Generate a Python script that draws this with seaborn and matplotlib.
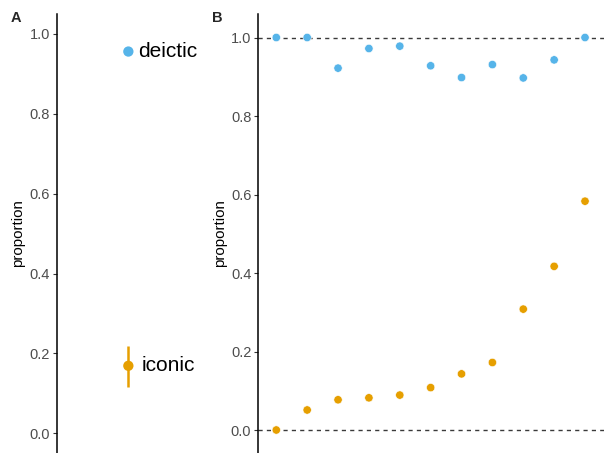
import seaborn as sns
import matplotlib.pyplot as plt
import pandas as pd
import numpy as np

# data
conditions = ["deictic", "iconic"]
summary_mean = [0.956, 0.169]
summary_lo = [0.950, 0.117]
summary_hi = [0.962, 0.219]

items = list(range(1, 12))
deictic_prop = [1.0, 1.0, 0.922, 0.972, 0.978, 0.928, 0.898, 0.931, 0.897, 0.943, 1.0]
iconic_prop = [0.0, 0.051, 0.077, 0.082, 0.089, 0.108, 0.143, 0.172, 0.308, 0.417, 0.583]

colors = {"deictic": "#56B4E9", "iconic": "#E69F00"}

sns.set_style("white")
plt.rcParams["font.family"] = ["Liberation Sans", "DejaVu Sans"]

W, H = 604, 453
fig = plt.figure(figsize=(W / 100, H / 100), dpi=100)


def px_axes(left, top, right, bottom):
    return fig.add_axes([left / W, 1 - bottom / H, (right - left) / W, (bottom - top) / H])


def style_axis(ax):
    sns.despine(ax=ax, bottom=True)
    ax.spines["left"].set_color("black")
    ax.spines["left"].set_linewidth(1.1)
    ax.set_xticks([])
    ax.set_xlabel("")
    ax.set_yticks([0, 0.2, 0.4, 0.6, 0.8, 1.0])
    ax.set_yticklabels(["0.0", "0.2", "0.4", "0.6", "0.8", "1.0"])
    ax.tick_params(axis="y", left=True, length=3, width=0.8, color="#333333",
                   labelsize=10.5, labelcolor="#4D4D4D", pad=2)
    ax.set_ylabel("proportion", fontsize=10.8, color="black", labelpad=3)
    ax.patch.set_alpha(0)


# Panel A
axA = px_axes(56.7, 14, 200, 453)
dfA = pd.DataFrame({"condition": conditions, "x": [0.5, 0.5], "mean": summary_mean})
for c, m, lo, hi in zip(conditions, summary_mean, summary_lo, summary_hi):
    axA.vlines(0.5, lo, hi, color=colors[c], linewidth=1.8, zorder=2)
sns.scatterplot(data=dfA, x="x", y="mean", hue="condition", palette=colors,
                s=55, edgecolor="none", legend=False, ax=axA, zorder=3)
label_x = [0.565, 0.595]
for c, m, lx in zip(conditions, summary_mean, label_x):
    axA.text(lx, m, c, fontsize=15, va="center", ha="left", color="black")
axA.set_xlim(0, 1)
axA.set_ylim(-0.0494, 1.050)
style_axis(axA)

# Panel B
axB = px_axes(258.3, 14, 604, 453)
dfB = pd.DataFrame({
    "item": items * 2,
    "proportion": deictic_prop + iconic_prop,
    "condition": ["deictic"] * len(items) + ["iconic"] * len(items),
})
axB.axhline(1.0, color="#3A3A3A", linestyle=(0, (3, 3)), linewidth=1, zorder=1)
axB.axhline(0.0, color="#3A3A3A", linestyle=(0, (3, 3)), linewidth=1, zorder=1)
sns.scatterplot(data=dfB, x="item", y="proportion", hue="condition", palette=colors,
                s=36, edgecolor="white", linewidth=0.4, legend=False, ax=axB, zorder=3)
axB.set_xlim(0.417, 11.615)
axB.set_ylim(-0.0586, 1.0599)
style_axis(axB)

fig.text(11 / W, 1 - 18 / H, "A", fontsize=10.5, fontweight="bold", va="center", ha="left")
fig.text(212 / W, 1 - 18 / H, "B", fontsize=10.5, fontweight="bold", va="center", ha="left")

fig.savefig("out.png", dpi=100)
plt.close()
